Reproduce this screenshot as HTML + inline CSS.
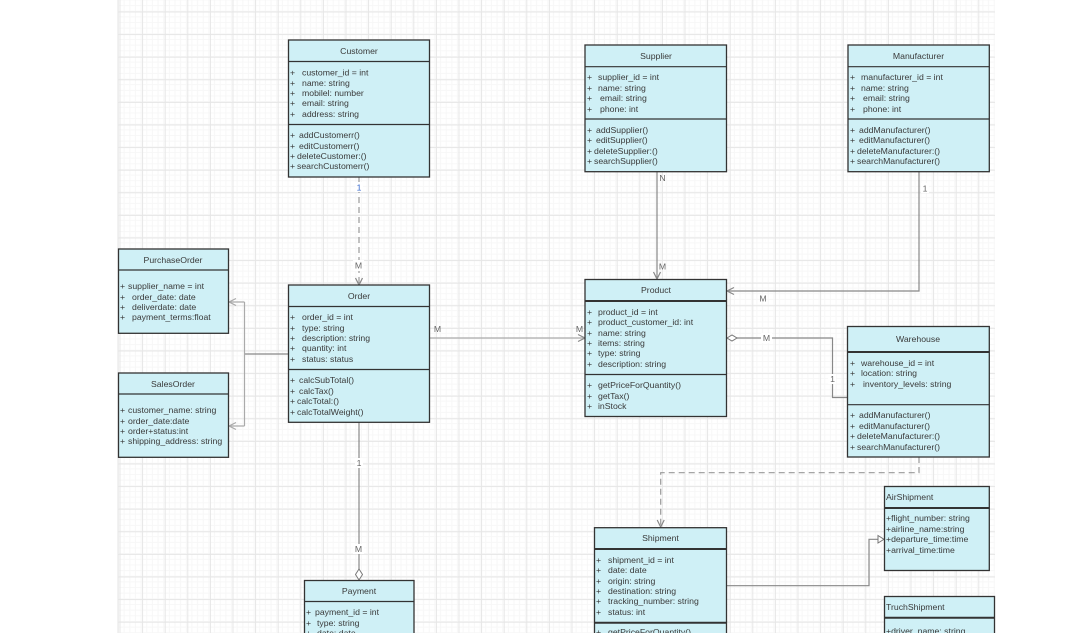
<!DOCTYPE html>
<html><head><meta charset="utf-8"><style>
html,body{margin:0;padding:0;background:#fff;width:1090px;height:633px;overflow:hidden}
svg{display:block}
text{font-family:"Liberation Sans",Arial,sans-serif;font-size:8.7px;fill:#3a3a3a}
.c{text-anchor:middle}
.b{fill:#cff0f6;stroke:#333;stroke-width:1.3}
.d{stroke:#333;stroke-width:1.2;fill:none}
.k{stroke:#333;stroke-width:2;fill:none}
.l{stroke:#aaa;stroke-width:1.2;fill:none}
.n{stroke:#888;stroke-width:1.2;fill:none}
.m{stroke:#999;stroke-width:1.2;fill:none;stroke-dasharray:6 4}
.w{fill:#fff}
.g{fill:#666;text-anchor:middle}
</style></head><body>
<svg width="1090" height="633" viewBox="0 0 1090 633" xmlns="http://www.w3.org/2000/svg">
<defs>
<pattern id="mi" x="119" y="0.4" width="5.65" height="5.65" patternUnits="userSpaceOnUse"><path d="M5.15 0V5.65M0 5.15H5.65" stroke="#f7f7f7" stroke-width="1" fill="none"/></pattern>
<pattern id="ma" x="119.5" y="11.5" width="22.6" height="22.6" patternUnits="userSpaceOnUse"><path d="M.5 0V22.6M0 .5H22.6" stroke="#e6e6e6" stroke-width="1" fill="none"/></pattern>
</defs>
<rect x="118" y="0" width="877" height="633" fill="url(#mi)"/>
<rect x="118" y="0" width="877" height="633" fill="url(#ma)"/>
<path d="M118 0V633" stroke="#e6e6e6"/>

<!-- connectors -->
<path class="m" d="M359 177V285"/>
<path class="n" d="M355.500 278L359 285L362.500 278"/>
<path class="n" d="M657 172V279"/>
<path class="n" d="M653.500 272L657 279L660.500 272"/>
<path class="n" d="M919 172V291H727"/>
<path class="n" d="M734 287.500L727 291L734 294.500"/>
<path class="l" d="M430 338H585"/>
<path class="n" d="M578 334.500L585 338L578 341.500"/>
<path class="n" d="M288 354H244.500"/>
<path class="l" d="M244.500 302V426"/>
<path class="l" d="M244.500 302H229M244.500 426H229"/>
<path class="l" d="M236 298.500L229 302L236 305.500M236 422.500L229 426L236 429.500"/>
<path class="n" d="M737 338H832.500V397.500H847"/>
<path d="M727 338L732 335L737 338L732 341Z" fill="#fff" stroke="#777"/>
<path class="n" d="M359 422V569"/>
<path d="M359 569L362.500 574.500L359 580L355.500 574.500Z" fill="#fff" stroke="#777"/>
<path class="m" d="M919 457V472.700H660.700V527"/>
<path class="n" d="M657.200 520L660.700 527L664.200 520"/>
<path class="n" d="M727 585.700H869V539.300H878"/>
<path d="M878 535.500L884 539.300L878 543Z" fill="#fff" stroke="#777"/>

<!-- boxes -->
<rect class="b" x="288.500" y="40" width="141" height="137"/><path class="d" d="M288.500 61.500H429.500M288.500 124.500H429.500"/>
<rect class="b" x="585" y="45" width="141.500" height="126.700"/><path class="d" d="M585 66.700H726.500M585 119H726.500"/>
<rect class="b" x="848" y="45" width="141.300" height="126.700"/><path class="d" d="M848 66.700H989.300M848 119H989.300"/>
<rect class="b" x="118.500" y="249" width="110" height="84.300"/><path class="d" d="M118.500 270H228.500"/>
<rect class="b" x="118.500" y="373" width="110" height="84.300"/><path class="d" d="M118.500 394H228.500"/>
<rect class="b" x="288.500" y="285" width="141" height="137.300"/><path class="d" d="M288.500 306.500H429.500M288.500 369.500H429.500"/>
<rect class="b" x="585" y="279.500" width="141.500" height="137"/><path class="k" d="M585 301H726.500"/><path class="d" d="M585 374.500H726.500"/>
<rect class="b" x="847.500" y="326.500" width="141.800" height="130.500"/><path class="k" d="M847.500 352H989.300"/><path class="d" d="M847.500 404.700H989.300"/>
<rect class="b" x="884.500" y="486.500" width="104.800" height="84"/><path class="k" d="M884.500 508H989.300"/>
<rect class="b" x="884.500" y="596.500" width="110" height="50"/><path class="k" d="M884.500 617.700H994.500"/>
<rect class="b" x="594.500" y="527.700" width="132" height="120"/><path class="k" d="M594.500 549H726.500"/><path class="k" d="M594.500 622.700H726.500"/>
<rect class="b" x="304.500" y="580.500" width="109.500" height="70"/><path class="d" d="M304.500 601.500H414"/>

<!-- Customer -->
<text class="c" x="359" y="54">Customer</text>
<text x="290" y="75.500">+</text><text x="302" y="75.500">customer_id = int</text>
<text x="290" y="86">+</text><text x="302" y="86">name: string</text>
<text x="290" y="96">+</text><text x="302" y="96">mobilel: number</text>
<text x="290" y="106">+</text><text x="302" y="106">email: string</text>
<text x="290" y="117">+</text><text x="302" y="117">address: string</text>
<text x="290" y="138">+</text><text x="299" y="138">addCustomerr()</text>
<text x="290" y="149">+</text><text x="299" y="149">editCustomerr()</text>
<text x="290" y="159">+</text><text x="297" y="159">deleteCustomer:()</text>
<text x="290" y="169">+</text><text x="297" y="169">searchCustomerr()</text>

<!-- Supplier -->
<text class="c" x="656" y="59">Supplier</text>
<text x="587" y="80">+</text><text x="598" y="80">supplier_id = int</text>
<text x="587" y="91">+</text><text x="598" y="91">name: string</text>
<text x="587" y="101">+</text><text x="600" y="101">email: string</text>
<text x="587" y="112">+</text><text x="600" y="112">phone: int</text>
<text x="587" y="133">+</text><text x="596" y="133">addSupplier()</text>
<text x="587" y="143">+</text><text x="596" y="143">editSupplier()</text>
<text x="587" y="154">+</text><text x="594" y="154">deleteSupplier:()</text>
<text x="587" y="164">+</text><text x="594" y="164">searchSupplier()</text>

<!-- Manufacturer -->
<text class="c" x="918.500" y="59">Manufacturer</text>
<text x="850" y="80">+</text><text x="861" y="80">manufacturer_id = int</text>
<text x="850" y="91">+</text><text x="861" y="91">name: string</text>
<text x="850" y="101">+</text><text x="863" y="101">email: string</text>
<text x="850" y="112">+</text><text x="863" y="112">phone: int</text>
<text x="850" y="133">+</text><text x="859" y="133">addManufacturer()</text>
<text x="850" y="143">+</text><text x="859" y="143">editManufacturer()</text>
<text x="850" y="154">+</text><text x="857" y="154">deleteManufacturer:()</text>
<text x="850" y="164">+</text><text x="857" y="164">searchManufacturer()</text>

<!-- PurchaseOrder -->
<text class="c" x="173" y="263">PurchaseOrder</text>
<text x="120" y="289">+</text><text x="128" y="289">supplier_name = int</text>
<text x="120" y="300">+</text><text x="132" y="300">order_date: date</text>
<text x="120" y="310">+</text><text x="132" y="310">deliverdate: date</text>
<text x="120" y="320">+</text><text x="132" y="320">payment_terms:float</text>

<!-- SalesOrder -->
<text class="c" x="173" y="387">SalesOrder</text>
<text x="120" y="413">+</text><text x="128" y="413">customer_name: string</text>
<text x="120" y="424">+</text><text x="128" y="424">order_date:date</text>
<text x="120" y="434">+</text><text x="128" y="434">order+status:int</text>
<text x="120" y="444">+</text><text x="128" y="444">shipping_address: string</text>

<!-- Order -->
<text class="c" x="359" y="299">Order</text>
<text x="290" y="320">+</text><text x="302" y="320">order_id = int</text>
<text x="290" y="331">+</text><text x="302" y="331">type: string</text>
<text x="290" y="341">+</text><text x="302" y="341">description: string</text>
<text x="290" y="351">+</text><text x="302" y="351">quantity: int</text>
<text x="290" y="362">+</text><text x="302" y="362">status: status</text>
<text x="290" y="383">+</text><text x="299" y="383">calcSubTotal()</text>
<text x="290" y="394">+</text><text x="299" y="394">calcTax()</text>
<text x="290" y="404">+</text><text x="297" y="404">calcTotal:()</text>
<text x="290" y="415">+</text><text x="297" y="415">calcTotalWeight()</text>

<!-- Product -->
<text class="c" x="656" y="293">Product</text>
<text x="587" y="315">+</text><text x="598" y="315">product_id = int</text>
<text x="587" y="325">+</text><text x="598" y="325">product_customer_id: int</text>
<text x="587" y="336">+</text><text x="598" y="336">name: string</text>
<text x="587" y="346">+</text><text x="598" y="346">items: string</text>
<text x="587" y="356">+</text><text x="598" y="356">type: string</text>
<text x="587" y="367">+</text><text x="598" y="367">description: string</text>
<text x="587" y="388">+</text><text x="598" y="388">getPriceForQuantity()</text>
<text x="587" y="399">+</text><text x="598" y="399">getTax()</text>
<text x="587" y="409">+</text><text x="598" y="409">inStock</text>

<!-- Warehouse -->
<text class="c" x="918" y="342">Warehouse</text>
<text x="850" y="366">+</text><text x="861" y="366">warehouse_id = int</text>
<text x="850" y="376">+</text><text x="861" y="376">location: string</text>
<text x="850" y="387">+</text><text x="863" y="387">inventory_levels: string</text>
<text x="850" y="418">+</text><text x="859" y="418">addManufacturer()</text>
<text x="850" y="429">+</text><text x="859" y="429">editManufacturer()</text>
<text x="850" y="439">+</text><text x="857" y="439">deleteManufacturer:()</text>
<text x="850" y="450">+</text><text x="857" y="450">searchManufacturer()</text>

<!-- AirShipment -->
<text x="886" y="500">AirShipment</text>
<text x="886" y="521">+flight_number: string</text>
<text x="886" y="532">+airline_name:string</text>
<text x="886" y="542">+departure_time:time</text>
<text x="886" y="553">+arrival_time:time</text>

<!-- TruchShipment -->
<text x="886" y="610">TruchShipment</text>
<text x="886" y="634">+driver_name: string</text>

<!-- Shipment -->
<text class="c" x="660.500" y="541">Shipment</text>
<text x="596" y="563">+</text><text x="608" y="563">shipment_id = int</text>
<text x="596" y="573">+</text><text x="608" y="573">date: date</text>
<text x="596" y="584">+</text><text x="608" y="584">origin: string</text>
<text x="596" y="594">+</text><text x="608" y="594">destination: string</text>
<text x="596" y="604">+</text><text x="608" y="604">tracking_number: string</text>
<text x="596" y="615">+</text><text x="608" y="615">status: int</text>
<text x="596" y="635">+</text><text x="608" y="635">getPriceForQuantity()</text>

<!-- Payment -->
<text class="c" x="359" y="594">Payment</text>
<text x="306" y="615">+</text><text x="315" y="615">payment_id = int</text>
<text x="306" y="626">+</text><text x="317" y="626">type: string</text>
<text x="306" y="636">+</text><text x="317" y="636">date: date</text>

<!-- connector labels -->
<rect class="w" x="355" y="182" width="8" height="10"/><text class="g" x="359" y="190.500" style="fill:#36c">1</text>
<rect class="w" x="353" y="260" width="11" height="11"/><text class="g" x="358.500" y="268.500">M</text>
<text class="g" x="662.500" y="181">N</text>
<text class="g" x="662.500" y="269.500">M</text>
<rect class="w" x="921" y="183" width="8" height="10"/><text class="g" x="925" y="191.500">1</text>
<text class="g" x="763" y="301.500">M</text>
<text class="g" x="437.500" y="332">M</text>
<text class="g" x="579.500" y="332">M</text>
<rect class="w" x="761" y="333" width="11" height="10"/><text class="g" x="766.500" y="341">M</text>
<rect class="w" x="828" y="374" width="8" height="10"/><text class="g" x="832.500" y="382">1</text>
<rect class="w" x="355" y="458" width="8" height="10"/><text class="g" x="359" y="466">1</text>
<rect class="w" x="353" y="544" width="11" height="10"/><text class="g" x="358.500" y="552">M</text>
</svg>
</body></html>
